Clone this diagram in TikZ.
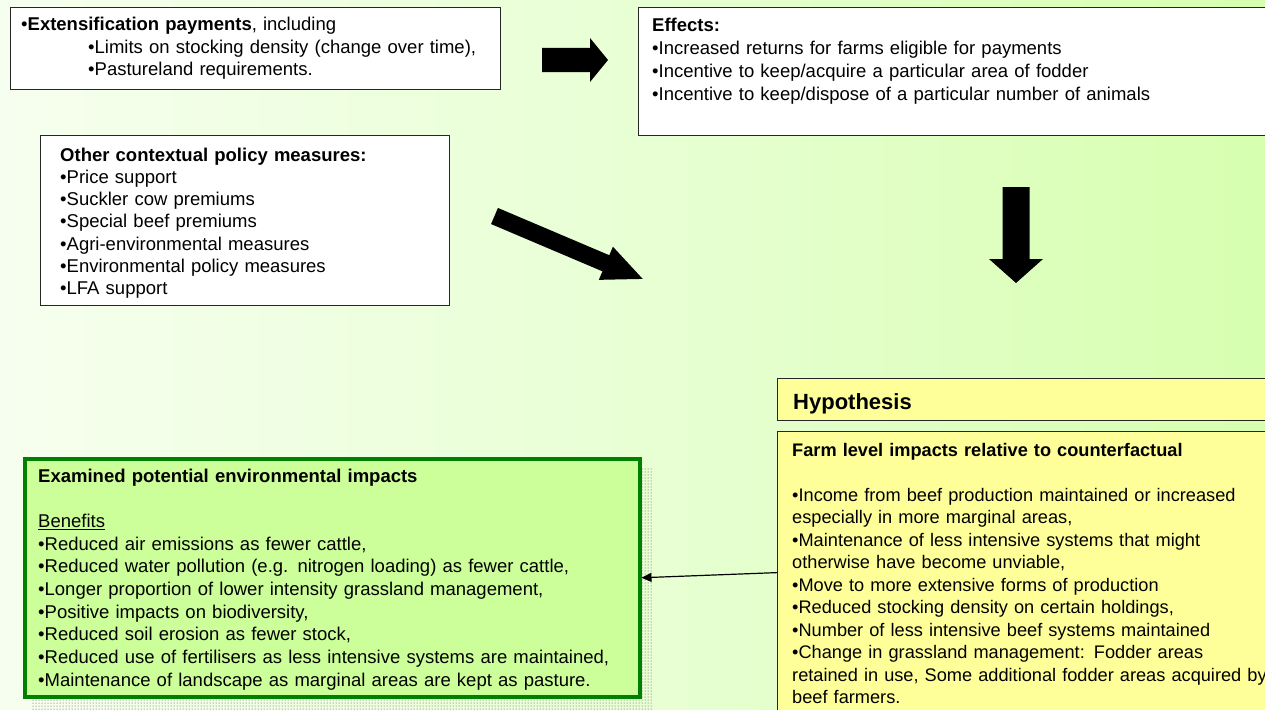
\documentclass[tikz,border=0pt]{standalone}
\usepackage{fontspec}
\setmainfont{Liberation Sans}
\usetikzlibrary{arrows.meta,patterns}

\definecolor{bgwhite}{RGB}{255,255,255}
\definecolor{bgmid}{RGB}{232,255,212}
\definecolor{bggreen}{RGB}{204,255,153}
\definecolor{boxgreen}{RGB}{204,255,153}
\definecolor{edgegreen}{RGB}{0,128,0}
\definecolor{hypyellow}{RGB}{255,255,153}

% page background: white on the left fading into light green on the right
\pgfdeclarehorizontalshading{pagebg}{100bp}{color(0bp)=(bgwhite); color(10bp)=(bgwhite); color(50bp)=(bgmid); color(90bp)=(bggreen); color(100bp)=(bggreen)}

\begin{document}
\begin{tikzpicture}[x=1pt,y=-1pt,
  panel/.style={draw=black!85, line width=1.2pt, fill=white, anchor=north west, inner sep=0pt},
  hyppanel/.style={panel, fill=hypyellow},
  greenpanel/.style={draw=edgegreen, line width=3.5pt, fill=boxgreen, anchor=north west, inner sep=0pt},
  bodytext/.style={anchor=base west, inner sep=0pt, text width=640pt, align=left,
    font=\fontsize{18.5}{#1}\selectfont},
  blockarrow/.style={fill=black},
  link/.style={line width=1.2pt, -{Triangle[length=10pt,width=9pt]}}]

\useasboundingbox (0,0) rectangle (1265,709);
\clip (0,0) rectangle (1265,709);
\shade[shading=pagebg] (0,0) rectangle (1265,709);

% dotted shadow behind the environmental impacts panel
\fill[pattern=dots, pattern color=black!70] (32,467) rectangle (652,712);

% panels
\node[panel, minimum width=490pt, minimum height=82pt] (ext) at (10,7) {};
\node[panel, minimum width=637pt, minimum height=128pt] (eff) at (638,7) {};
\node[panel, minimum width=409pt, minimum height=170pt] (ctx) at (40,135) {};
\node[hyppanel, minimum width=500pt, minimum height=42pt] (hyp) at (777,378) {};
\node[hyppanel, minimum width=500pt, minimum height=282pt] (farm) at (777,431) {};
\node[greenpanel, minimum width=615pt, minimum height=238pt] (env) at (23,457) {};

% block arrows
\fill[blockarrow] (542,48) -- (590,48) -- (590,38) -- (608,60) -- (590,82) -- (590,72) -- (542,72) -- cycle;
\fill[blockarrow] (1002.5,187) -- (1029.5,187) -- (1029.5,259) -- (1043,259) -- (1016,283) -- (989,259) -- (1002.5,259) -- cycle;
\begin{scope}[shift={(494.5,216)}, rotate=-23]
  \fill[blockarrow] (0,-8.75) -- (121,-8.75) -- (121,-18) -- (161,0) -- (121,18) -- (121,8.75) -- (0,8.75) -- cycle;
\end{scope}

% connector from farm level impacts to environmental impacts
\draw[link] (farm.west) -- (env.east);

% texts
\node[bodytext=22] (ext-text) at (21,31) {%
  •\textbf{Extensification payments}, including\\
  \hspace*{67pt}•Limits on stocking density (change over time),\\
  \hspace*{67pt}•Pastureland requirements.};

\node[bodytext=23] (eff-text) at (652,32) {%
  \textbf{Effects:}\\
  •Increased returns for farms eligible for payments\\
  •Incentive to keep/acquire a particular area of fodder\\
  •Incentive to keep/dispose of a particular number of animals};

\node[bodytext=22.3] (ctx-text) at (60,161) {%
  \textbf{Other contextual policy measures:}\\
  •Price support\\
  •Suckler cow premiums\\
  •Special beef premiums\\
  •Agri-environmental measures\\
  •Environmental policy measures\\
  •LFA support};

\node[anchor=base west, inner sep=0pt, font=\fontsize{22}{26}\selectfont\bfseries] (hyp-text) at (793,409) {Hypothesis};

\node[anchor=base west, inner sep=0pt, text width=640pt, align=left,
      font=\fontsize{18.2}{22.5}\selectfont] (farm-text) at (792,456) {%
  \textbf{Farm level impacts relative to counterfactual}\\[22.5pt]
  •Income from beef production maintained or increased\\
  especially in more marginal areas,\\
  •Maintenance of less intensive systems that might\\
  otherwise have become unviable,\\
  •Move to more extensive forms of production\\
  •Reduced stocking density on certain holdings,\\
  •Number of less intensive beef systems maintained\\
  •Change in grassland management: Fodder areas\\
  retained in use, Some additional fodder areas acquired by\\
  beef farmers.};

\node[bodytext=22.7] (env-text) at (38,482) {%
  \textbf{Examined potential environmental impacts}\\[22.7pt]
  \underline{Benefits}\\
  •Reduced air emissions as fewer cattle,\\
  •Reduced water pollution (e.g. nitrogen loading) as fewer cattle,\\
  •Longer proportion of lower intensity grassland management,\\
  •Positive impacts on biodiversity,\\
  •Reduced soil erosion as fewer stock,\\
  •Reduced use of fertilisers as less intensive systems are maintained,\\
  •Maintenance of landscape as marginal areas are kept as pasture.};
\end{tikzpicture}
\end{document}
